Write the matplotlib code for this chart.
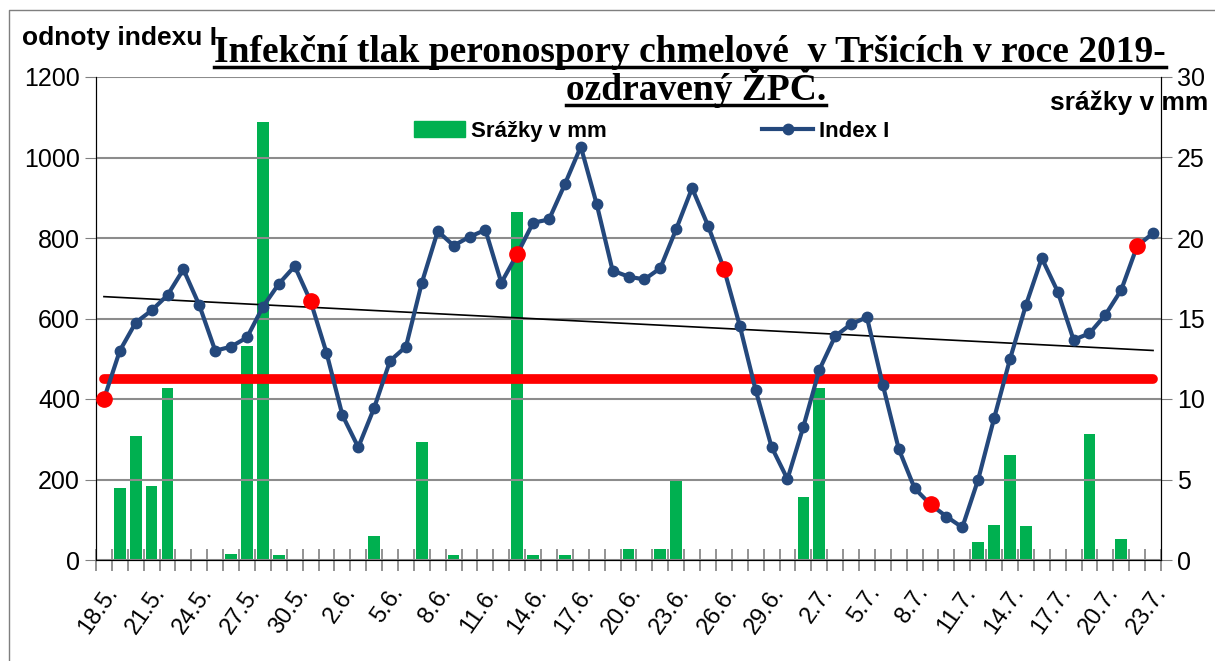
import numpy as np
import matplotlib
matplotlib.use('Agg')
import matplotlib.pyplot as plt
from matplotlib.lines import Line2D
from matplotlib.patches import Patch

# --- data ---
# daily values 18.5. .. 23.7. (67 days)
days = ['18.5.', '19.5.', '20.5.', '21.5.', '22.5.', '23.5.', '24.5.', '25.5.', '26.5.', '27.5.',
        '28.5.', '29.5.', '30.5.', '31.5.', '1.6.', '2.6.', '3.6.', '4.6.', '5.6.', '6.6.',
        '7.6.', '8.6.', '9.6.', '10.6.', '11.6.', '12.6.', '13.6.', '14.6.', '15.6.', '16.6.',
        '17.6.', '18.6.', '19.6.', '20.6.', '21.6.', '22.6.', '23.6.', '24.6.', '25.6.', '26.6.',
        '27.6.', '28.6.', '29.6.', '30.6.', '1.7.', '2.7.', '3.7.', '4.7.', '5.7.', '6.7.',
        '7.7.', '8.7.', '9.7.', '10.7.', '11.7.', '12.7.', '13.7.', '14.7.', '15.7.', '16.7.',
        '17.7.', '18.7.', '19.7.', '20.7.', '21.7.', '22.7.', '23.7.']

index_i = [400, 520, 590, 620, 658, 722, 633, 520, 530, 553,
           629, 686, 730, 643, 515, 360, 280, 378, 495, 530,
           689, 817, 781, 803, 820, 689, 760, 838, 846, 934,
           1027, 884, 719, 704, 697, 725, 822, 924, 831, 724,
           582, 422, 281, 201, 331, 472, 556, 586, 603, 435,
           276, 178, 138, 108, 81, 200, 352, 499, 633, 750,
           667, 547, 563, 609, 671, 780, 812]

srazky = [0, 4.5, 7.7, 4.6, 10.7, 0, 0, 0, 0.4, 13.3,
          27.2, 0.3, 0, 0, 0, 0, 0, 1.5, 0, 0,
          7.3, 0, 0.3, 0, 0, 0, 21.6, 0.3, 0, 0.3,
          0, 0, 0, 0.7, 0, 0.7, 4.9, 0, 0, 0,
          0, 0, 0, 0, 3.9, 10.7, 0, 0, 0, 0,
          0, 0, 0, 0, 0, 1.1, 2.2, 6.5, 2.1, 0,
          0, 0, 7.8, 0, 1.3, 0, 0]

# days with spraying (red points)
red_days = [0, 13, 26, 39, 52, 65]
threshold = 450

x = np.arange(len(days))
index_i = np.array(index_i)

plt.rcParams['font.family'] = ['Liberation Sans', 'DejaVu Sans']

fig = plt.figure(figsize=(12.15, 6.61), dpi=100)
ax = fig.add_axes([96/1215, 101/661, 1065/1215, 483/661])
ax2 = ax.twinx()

# precipitation bars on the right axis
ax2.bar(x, srazky, width=0.73, color='#00B050', zorder=1)
ax2.set_ylim(0, 30)
ax2.set_yticks(range(0, 31, 5))

ax.set_zorder(ax2.get_zorder() + 1)
ax.patch.set_visible(False)

# threshold line
ax.plot([x[0], x[-1]], [threshold, threshold], color='#FF0000', lw=7,
        solid_capstyle='round', zorder=3)

# linear trend of the index
k, q = np.polyfit(x, index_i, 1)
ax.plot(x, k*x + q, color='black', lw=1.2, zorder=4)

# index line
ax.plot(x, index_i, color='#24487C', lw=3, marker='o', ms=7.5, zorder=5)
ax.plot(x[red_days], index_i[red_days], 'o', color='#FF0000', ms=11, zorder=6)

ax.set_xlim(-0.5, len(days) - 0.5)
ax.set_ylim(0, 1200)
ax.set_yticks(range(0, 1201, 200))
ax.grid(axis='y', color='#8C8C8C', lw=1.5, zorder=0)
ax.set_axisbelow(True)

# x ticks at category boundaries, labels every 3 days
ax.set_xticks(np.arange(len(days) + 1) - 0.5)
ax.set_xticklabels([])
ax.set_xticks(x[::3], minor=True)
ax.set_xticklabels([days[i] for i in x[::3]], minor=True, rotation=55,
                   ha='right', va='top', rotation_mode='anchor', fontsize=17)
ax.tick_params(axis='x', which='major', direction='inout', length=16, color='#808080', width=1.2)
ax.tick_params(axis='x', which='minor', length=0, pad=16)
ax.tick_params(axis='y', labelsize=18, length=8, color='#808080')
ax2.tick_params(axis='y', labelsize=18, length=8, color='#808080')

for a in (ax, ax2):
    a.spines['top'].set_visible(False)
    a.spines['left'].set_color('black')
    a.spines['right'].set_color('black')
    a.spines['bottom'].set_color('black')

# legend
handles = [Patch(color='#00B050'),
           Line2D([], [], color='#24487C', lw=3, marker='o', ms=7.5)]
ax.legend(handles, ['Srážky v mm', 'Index I'], ncol=2, loc='center',
          bbox_to_anchor=(0.5216, 0.888), frameon=False, handlelength=2.3,
          handletextpad=0.25, columnspacing=7.0, borderpad=0,
          prop={'weight': 'bold', 'size': 16})

# axis titles
fig.text(22/1215, 1 - 38/661, 'odnoty indexu I', fontsize=19, fontweight='bold', va='center')
fig.text(1208/1215, 1 - 103/661, 'srážky v mm', fontsize=19, fontweight='bold',
         va='center', ha='right')

# title with underline
t1 = fig.text(690/1215, 1 - 62/661, 'Infekční tlak peronospory chmelové  v Tršicích v roce 2019-',
              fontsize=27, fontweight='bold', family='Liberation Serif', ha='center',
              va='baseline')
t2 = fig.text(696/1215, 1 - 100/661, 'ozdravený ŽPČ.',
              fontsize=27, fontweight='bold', family='Liberation Serif', ha='center',
              va='baseline')
fig.canvas.draw()
r = fig.canvas.get_renderer()
for t, yb in ((t1, 62), (t2, 100)):
    bb = t.get_window_extent(r)
    fig.add_artist(Line2D([bb.x0/1215, bb.x1/1215], [1 - (yb + 5)/661] * 2,
                          color='black', lw=2.5))

# outer chart border
fig.add_artist(Line2D([9/1215, 9/1215, 1], [0, 1 - 10/661, 1 - 10/661], color='#7F7F7F', lw=1))

fig.savefig('out.png', dpi=100)
